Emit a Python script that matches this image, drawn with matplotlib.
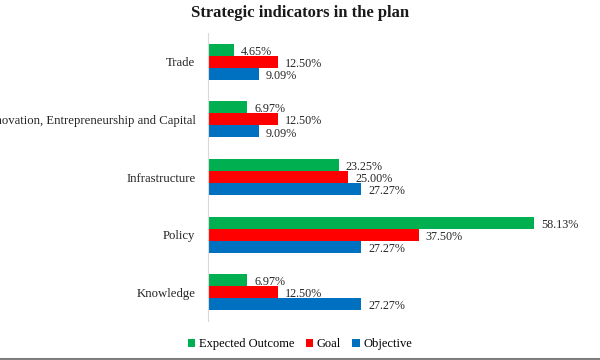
import matplotlib.pyplot as plt
from matplotlib.lines import Line2D
import numpy as np

plt.rcParams['font.family'] = ['Liberation Serif', 'DejaVu Serif']

# data (percent)
categories = ['Trade', 'Innovation, Entrepreneurship and Capital',
              'Infrastructure', 'Policy', 'Knowledge']
expected = [4.65, 6.97, 23.25, 58.13, 6.97]
goal = [12.50, 12.50, 25.00, 37.50, 12.50]
objective = [9.09, 9.09, 27.27, 27.27, 27.27]

series = [('Expected Outcome', expected, '#00B050'),
          ('Goal', goal, '#FF0000'),
          ('Objective', objective, '#0070C0')]

fig = plt.figure(figsize=(6, 3.6), dpi=100)
ax = fig.add_axes([208/600, 1 - 321/360, 393/600, 288/360])

y = np.arange(len(categories))
h = 0.209
for i, (name, vals, col) in enumerate(series):
    pos = y + (i - 1) * h
    ax.barh(pos, vals, height=h, color=col, label=name)
    for p, v in zip(pos, vals):
        ax.annotate('%.2f%%' % v, (v, p), xytext=(5, -1.5), textcoords='offset points',
                    va='center', ha='left', fontsize=8.7, color='#262626')

ax.set_xlim(0, 70)
ax.set_ylim(len(categories) - 0.5, -0.5)
ax.set_yticks(y)
ax.set_yticklabels(categories, fontsize=9.2, color='#262626')
ax.tick_params(axis='y', length=0, pad=9)
ax.set_xticks([])
for s in ['top', 'right', 'bottom']:
    ax.spines[s].set_visible(False)
ax.spines['left'].set_color('#D9D9D9')

fig.text(0.5, 1 - 13/360, 'Strategic indicators in the plan', ha='center', va='center',
         fontsize=12, fontweight='bold', color='#1a1a1a')

handles, labels = ax.get_legend_handles_labels()
fig.legend(handles, labels, loc='center', bbox_to_anchor=(0.5, 1 - 344/360), ncol=3,
           frameon=False, fontsize=9, handlelength=0.6, handleheight=0.6,
           handletextpad=0.3, columnspacing=0.9)

fig.add_artist(Line2D([0, 1], [0.002, 0.002], transform=fig.transFigure,
                      color='#7F7F7F', lw=1.5))

fig.savefig('out.png', dpi=100)
